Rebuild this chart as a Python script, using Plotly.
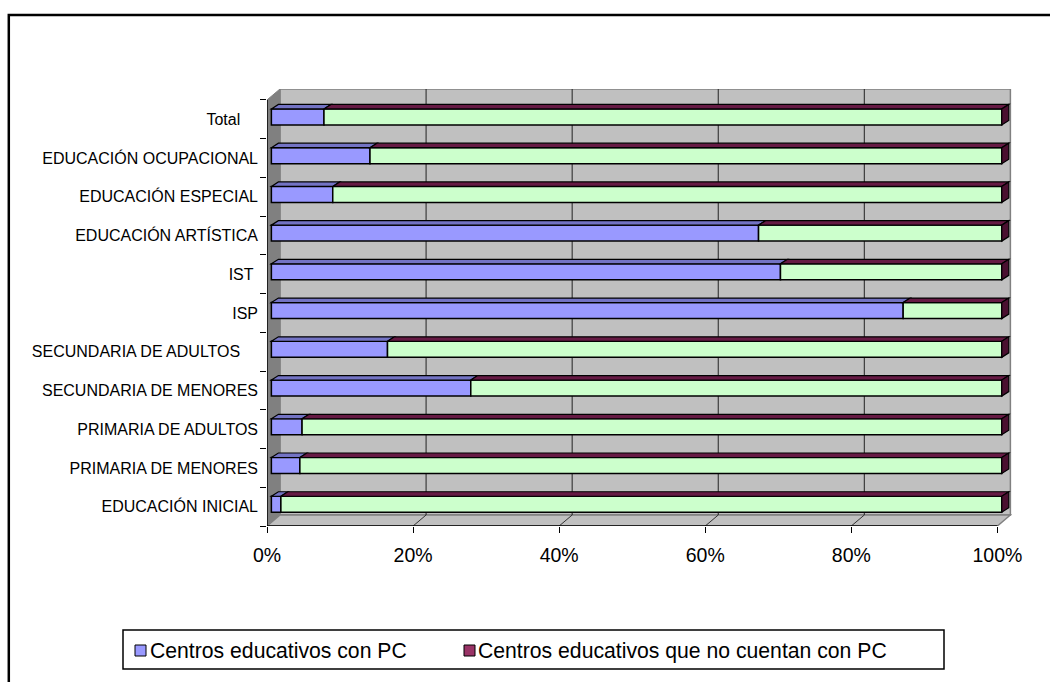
import plotly.graph_objects as go

# ---------------- data ----------------
categorias = [
    "EDUCACIÓN INICIAL",
    "PRIMARIA DE MENORES",
    "PRIMARIA DE ADULTOS",
    "SECUNDARIA DE MENORES",
    "SECUNDARIA DE ADULTOS",
    "ISP",
    "IST",
    "EDUCACIÓN ARTÍSTICA",
    "EDUCACIÓN ESPECIAL",
    "EDUCACIÓN OCUPACIONAL",
    "Total",
]
con_pc = [1.3, 3.9, 4.2, 27.3, 15.9, 86.5, 69.7, 66.7, 8.4, 13.5, 7.2]
sin_pc = [98.7, 96.1, 95.8, 72.7, 84.1, 13.5, 30.3, 33.3, 91.6, 86.5, 92.8]
serie_nombres = ["Centros educativos con PC", "Centros educativos que no cuentan con PC"]
x_ticks = [0, 20, 40, 60, 80, 100]
x_tick_labels = ["0%", "20%", "40%", "60%", "80%", "100%"]

# ---------------- style / geometry ----------------
FONT = "Liberation Sans, Arial, sans-serif"
C_BLUE = "#9999FF"
C_BLUE_TOP = "#7373C4"
C_GREEN = "#CCFFCC"
C_MAROON = "#993366"
C_MAROON_TOP = "#661A44"
C_MAROON_SIDE = "#4A1030"
C_WALL = "#C0C0C0"
C_SIDEWALL = "#808080"

W, H = 1050, 682
L, R, T, B = 267, 38, 89, 156
XMAX = 102.0
n = len(categorias)
YMIN = -0.5
YMAX = 10.783
DX, DY = 1.78, 0.284          # wall depth (data units)
BASE = 0.6                     # bar front shift
BW = 0.413                     # bar thickness
BOFF = -0.1445                 # bar offset
DDX, DDY = 0.96, 0.116         # bar 3D depth
NB = "\u00a0"
label_pad = {"Total": 4, "SECUNDARIA DE ADULTOS": 4, "IST": 1}

fig = go.Figure()

base_con = [BASE] * n
base_sin = [BASE + v for v in con_pc]

fig.add_trace(go.Bar(
    y=list(range(n)), x=con_pc, base=base_con, orientation="h",
    width=BW, offset=BOFF, marker=dict(color=C_BLUE, line=dict(color="black", width=1.5)),
    showlegend=False, name=serie_nombres[0], hoverinfo="skip"))
fig.add_trace(go.Bar(
    y=list(range(n)), x=sin_pc, base=base_sin, orientation="h",
    width=BW, offset=BOFF, marker=dict(color=C_GREEN, line=dict(color="black", width=1.5)),
    showlegend=False, name=serie_nombres[1], hoverinfo="skip"))
# helper trace for secondary y axis (boundary ticks)
fig.add_trace(go.Scatter(x=[0], y=[0], yaxis="y2", mode="markers",
                         marker=dict(opacity=0), showlegend=False, hoverinfo="skip"))

shapes = []
annotations = []
def path(pts):
    return "M " + " L ".join(f"{x},{y}" for x, y in pts) + " Z"

# back wall
shapes.append(dict(type="path", xref="x", yref="y", layer="below",
                   path=path([(DX, YMIN + DY), (100 + DX, YMIN + DY), (100 + DX, n - 0.5 + DY), (DX, n - 0.5 + DY)]),
                   fillcolor=C_WALL, line=dict(color=C_SIDEWALL, width=1.5)))
# left side wall
shapes.append(dict(type="path", xref="x", yref="y", layer="below",
                   path=path([(0, YMIN), (DX, YMIN + DY), (DX, n - 0.5 + DY), (0, n - 0.5)]),
                   fillcolor=C_SIDEWALL, line=dict(color=C_SIDEWALL, width=1)))
# floor
shapes.append(dict(type="path", xref="x", yref="y", layer="below",
                   path=path([(0, YMIN), (100, YMIN), (100 + DX, YMIN + DY), (DX, YMIN + DY)]),
                   fillcolor=C_WALL, line=dict(color=C_SIDEWALL, width=1.5)))
# gridlines on back wall + floor diagonals
for t in x_ticks[1:-1]:
    shapes.append(dict(type="line", xref="x", yref="y", layer="below",
                       x0=t + DX, x1=t + DX, y0=YMIN + DY, y1=n - 0.5 + DY,
                       line=dict(color="#222222", width=1)))
    shapes.append(dict(type="line", xref="x", yref="y", layer="below",
                       x0=t, x1=t + DX, y0=YMIN, y1=YMIN + DY,
                       line=dict(color="#333333", width=1)))
# front axis lines
shapes.append(dict(type="line", xref="x", yref="y", x0=0, x1=100, y0=YMIN, y1=YMIN,
                   line=dict(color="black", width=1.5)))
shapes.append(dict(type="line", xref="x", yref="y", x0=0, x1=0, y0=YMIN, y1=n - 0.5,
                   line=dict(color="black", width=1.5)))

# bar 3D faces
for i in range(n):
    yb = i + BOFF
    yt = yb + BW
    a = base_con[i]
    b = a + con_pc[i]
    e = base_sin[i] + sin_pc[i]
    shapes.append(dict(type="path", xref="x", yref="y",
                       path=path([(a, yt), (a + DDX, yt + DDY), (b + DDX, yt + DDY), (b, yt)]),
                       fillcolor=C_BLUE_TOP, line=dict(color="black", width=1.2)))
    shapes.append(dict(type="path", xref="x", yref="y",
                       path=path([(b, yt), (b + DDX, yt + DDY), (e + DDX, yt + DDY), (e, yt)]),
                       fillcolor=C_MAROON_TOP, line=dict(color="black", width=1.2)))
    shapes.append(dict(type="path", xref="x", yref="y",
                       path=path([(e, yb), (e, yt), (e + DDX, yt + DDY), (e + DDX, yb + DDY)]),
                       fillcolor=C_MAROON_SIDE, line=dict(color="black", width=1.2)))

pw, ph = W - L - R, H - T - B
def px2paper_x(px):
    return (px - L) / pw
def px2paper_y(py):
    return (H - B - py) / ph

# outer frame
shapes.append(dict(type="rect", xref="paper", yref="paper",
                   x0=px2paper_x(8.8), x1=px2paper_x(1070), y0=px2paper_y(15), y1=px2paper_y(700),
                   line=dict(color="black", width=2.5)))

# legend (box, swatches, labels)
shapes.append(dict(type="rect", xref="paper", yref="paper",
                   x0=px2paper_x(123), x1=px2paper_x(944), y0=px2paper_y(630), y1=px2paper_y(669),
                   line=dict(color="black", width=1.5), fillcolor="white"))
leg_colors = [C_BLUE, C_MAROON]
leg_sq_x = [135, 464]
leg_tx_x = [148, 476]
for k in range(2):
    shapes.append(dict(type="rect", xref="paper", yref="paper",
                       x0=px2paper_x(leg_sq_x[k]), x1=px2paper_x(leg_sq_x[k] + 11),
                       y0=px2paper_y(645), y1=px2paper_y(656),
                       line=dict(color="black", width=1), fillcolor=leg_colors[k]))
    annotations.append(dict(xref="paper", yref="paper", x=px2paper_x(leg_tx_x[k]), y=px2paper_y(650.5),
                            xanchor="left", yanchor="middle", showarrow=False,
                            text=serie_nombres[k], font=dict(size=21.2, family=FONT, color="black")))

fig.update_layout(
    width=W, height=H,
    margin=dict(l=L, r=R, t=T, b=B, pad=0),
    paper_bgcolor="white", plot_bgcolor="white",
    font=dict(family=FONT, color="black"),
    barmode="overlay",
    showlegend=False,
    shapes=shapes,
    annotations=annotations,
    xaxis=dict(range=[0, XMAX], tickvals=x_ticks, ticktext=x_tick_labels,
               ticks="outside", ticklen=6, tickcolor="black", tickwidth=1,
               showgrid=False, zeroline=False, showline=False,
               tickfont=dict(size=19.5, family=FONT), ticklabelstandoff=6),
    yaxis=dict(range=[YMIN, YMAX], tickvals=list(range(n)),
               ticktext=[c + NB * label_pad.get(c, 0) for c in categorias],
               ticks="", showgrid=False, zeroline=False, showline=False,
               tickfont=dict(size=16, family=FONT), ticklabelstandoff=8),
    yaxis2=dict(range=[YMIN, YMAX], overlaying="y", side="left", anchor="x",
                tickvals=[k - 0.5 for k in range(n + 1)], ticks="outside", ticklen=6,
                tickcolor="black", tickwidth=1, showticklabels=False,
                showgrid=False, zeroline=False, showline=False),
)

fig.write_html("out.html")
